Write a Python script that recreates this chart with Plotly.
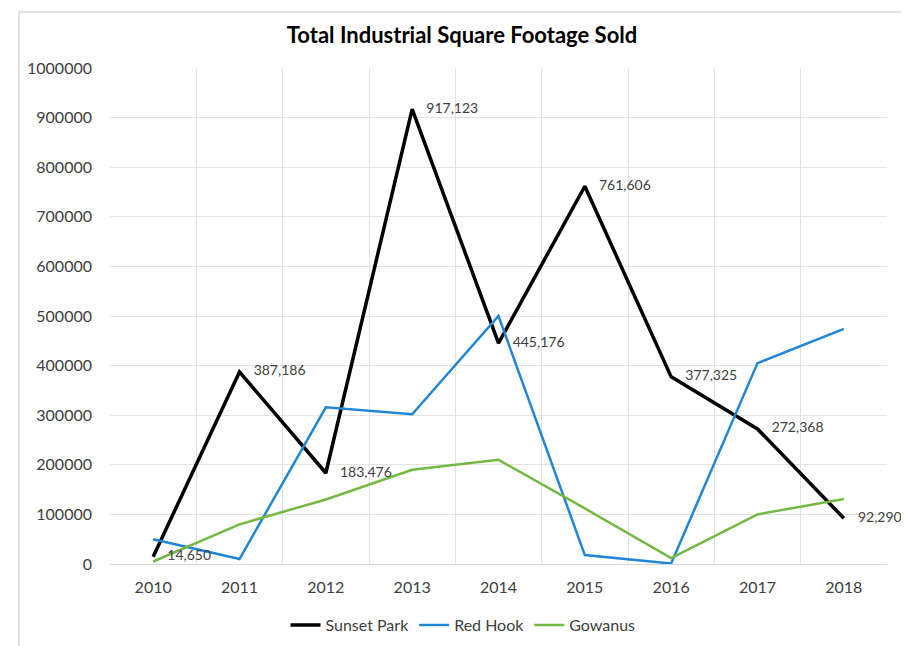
import plotly.graph_objects as go

years = ["2010", "2011", "2012", "2013", "2014", "2015", "2016", "2017", "2018"]
sunset_park = [14650, 387186, 183476, 917123, 445176, 761606, 377325, 272368, 92290]
red_hook = [50000, 10000, 316000, 302000, 500000, 18000, 1000, 405000, 474000]
gowanus = [5000, 80000, 130000, 190000, 210000, 112000, 12000, 100000, 131000]
y_ticks = [0, 100000, 200000, 300000, 400000, 500000, 600000, 700000, 800000, 900000, 1000000]

FONT = "Lato, Open Sans, sans-serif"

fig = go.Figure()
fig.add_trace(go.Scatter(x=years, y=sunset_park, mode="lines", name="Sunset Park",
                         line=dict(color="#000000", width=3.5)))
fig.add_trace(go.Scatter(x=years, y=red_hook, mode="lines", name="Red Hook",
                         line=dict(color="#2186d6", width=2.5)))
fig.add_trace(go.Scatter(x=years, y=gowanus, mode="lines", name="Gowanus",
                         line=dict(color="#74b944", width=2.5)))
# data labels for Sunset Park
fig.add_trace(go.Scatter(x=years, y=sunset_park, mode="markers+text", showlegend=False,
                         hoverinfo="skip",
                         marker=dict(size=21, color="rgba(0,0,0,0)"),
                         texttemplate="%{y:,}", textposition="middle right",
                         textfont=dict(family=FONT, size=14, color="#404040"),
                         cliponaxis=False))

fig.add_shape(type="rect", xref="paper", yref="paper",
              x0=(19 - 110) / 777, x1=(905 - 110) / 777,
              y0=(564 - 652) / 496, y1=(564 - 12) / 496,
              line=dict(color="#d9d9d9", width=1.5), fillcolor="rgba(0,0,0,0)", layer="below")

fig.update_layout(
    width=901, height=638,
    margin=dict(l=102, r=22, t=60, b=82, autoexpand=False),
    paper_bgcolor="white", plot_bgcolor="white",
    title=dict(text="<b>Total Industrial Square Footage Sold</b>", x=(462 - 8) / 901, xanchor="center",
               y=1 - (35 - 8) / 638, yanchor="middle",
               font=dict(family=FONT, size=22, color="#000000")),
    font=dict(family=FONT, size=15, color="#404040"),
    xaxis=dict(type="category", tickson="boundaries", showgrid=True, gridcolor="#e3e3e3",
               gridwidth=1, showline=False, ticks="", ticklen=0, ticklabelstandoff=12,
               tickfont=dict(size=16, color="#404040"), range=[-0.5, 8.5]),
    yaxis=dict(range=[0, 1000000], tickvals=y_ticks, ticktext=[str(t) for t in y_ticks],
               showgrid=True, gridcolor="#e3e3e3", gridwidth=1, zeroline=True,
               zerolinecolor="#d9d9d9", zerolinewidth=1, showline=False, ticks="",
               ticklabelstandoff=17, tickfont=dict(size=16, color="#404040")),
    showlegend=True,
    legend=dict(orientation="h", x=(463 - 8) / 901, xanchor="center",
                xref="container", yref="container",
                y=1 - (625 - 8) / 638, yanchor="middle",
                font=dict(size=16, color="#404040"), itemwidth=30,
                bgcolor="rgba(0,0,0,0)"),
)

fig.write_html("out.html")
